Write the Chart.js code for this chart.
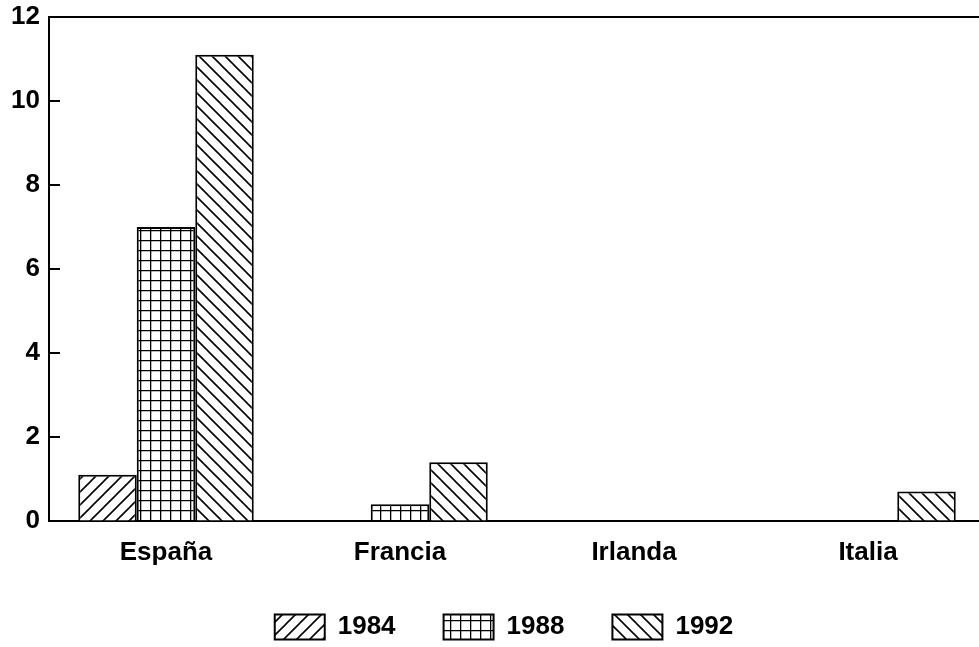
<!DOCTYPE html>
<html>
<head>
<meta charset="utf-8">
<script src="https://cdn.jsdelivr.net/npm/chart.js@4"></script>
<style>
  html, body { margin: 0; padding: 0; background: #fff; overflow: hidden; }
  #wrap { width: 1008px; height: 650px; }
</style>
</head>
<body>
<div id="wrap"><canvas id="chart"></canvas></div>
<script>
// data
const paises = ["España", "Francia", "Irlanda", "Italia"];
const anios = ["1984", "1988", "1992"];
const v1984 = [1.1, 0, 0, 0];
const v1988 = [7, 0.4, 0, 0];
const v1992 = [11.1, 1.4, 0, 0.7];
const yTicks = [0, 2, 4, 6, 8, 10, 12];

// hatch fills
function hatch(kind) {
  const s = kind === "grid" ? 10 : 13;
  const c = document.createElement("canvas");
  c.width = s; c.height = s;
  const g = c.getContext("2d");
  g.fillStyle = "#fff";
  g.fillRect(0, 0, s, s);
  g.strokeStyle = "#000";
  g.lineWidth = 1.6;
  g.beginPath();
  if (kind === "up") {
    g.moveTo(0, s); g.lineTo(s, 0);
    g.moveTo(-2, 2); g.lineTo(2, -2);
    g.moveTo(s - 2, s + 2); g.lineTo(s + 2, s - 2);
  } else if (kind === "down") {
    g.moveTo(0, 0); g.lineTo(s, s);
    g.moveTo(-2, s - 2); g.lineTo(2, s + 2);
    g.moveTo(s - 2, -2); g.lineTo(s + 2, 2);
  } else {
    g.moveTo(0.5, 0); g.lineTo(0.5, s);
    g.moveTo(0, 0.5); g.lineTo(s, 0.5);
  }
  g.stroke();
  return g.createPattern(c, "repeat");
}

Chart.defaults.font.family = "'Liberation Sans', Arial, sans-serif";
Chart.defaults.font.weight = "bold";
Chart.defaults.font.size = 26;
Chart.defaults.color = "#000";

// inward y ticks, top frame line, and legend nudged to the picture's centre
const frame = {
  id: "frame",
  afterLayout(chart) {
    chart.legend.left += 11.5;
    chart.legend.right += 11.5;
  },
  afterDraw(chart) {
    const ctx = chart.ctx;
    const a = chart.chartArea;
    const y = chart.scales.y;
    ctx.save();
    ctx.strokeStyle = "#000";
    ctx.lineWidth = 2;
    ctx.beginPath();
    ctx.moveTo(a.left, a.top);
    ctx.lineTo(chart.width, a.top);
    yTicks.forEach(t => {
      const py = y.getPixelForValue(t);
      ctx.moveTo(a.left, py);
      ctx.lineTo(a.left + 11, py);
    });
    ctx.stroke();
    ctx.restore();
  }
};

const ds = (label, data, kind) => ({
  label,
  data,
  backgroundColor: hatch(kind),
  borderColor: "#000",
  borderWidth: 2,
  categoryPercentage: 0.75,
  barPercentage: 1.0
});

new Chart(document.getElementById("chart"), {
  type: "bar",
  data: {
    labels: paises,
    datasets: [
      ds(anios[0], v1984, "up"),
      ds(anios[1], v1988, "grid"),
      ds(anios[2], v1992, "down")
    ]
  },
  options: {
    responsive: true,
    maintainAspectRatio: false,
    animation: false,
    layout: { padding: { left: 0, right: 23, top: 17, bottom: 0 } },
    plugins: {
      tooltip: { enabled: false },
      legend: {
        position: "bottom",
        labels: {
          boxWidth: 50,
          boxHeight: 25,
          padding: 48,
          font: { size: 26, weight: "bold" }
        }
      }
    },
    scales: {
      x: {
        grid: { drawOnChartArea: false, drawTicks: false },
        border: { color: "#000", width: 2 },
        ticks: { padding: 16, maxRotation: 0 },
        afterFit: s => { s.height = 45; }
      },
      y: {
        min: 0,
        max: 12,
        grid: { drawOnChartArea: false, drawTicks: false },
        border: { color: "#000", width: 2 },
        ticks: {
          stepSize: 2,
          padding: 9,
          callback: v => yTicks.includes(v) ? String(v) : ""
        },
        afterFit: s => {
          s.width = 49;
          s.paddingTop = 0;
          s.paddingBottom = 0;
        }
      }
    }
  },
  plugins: [frame]
});
</script>
</body>
</html>
